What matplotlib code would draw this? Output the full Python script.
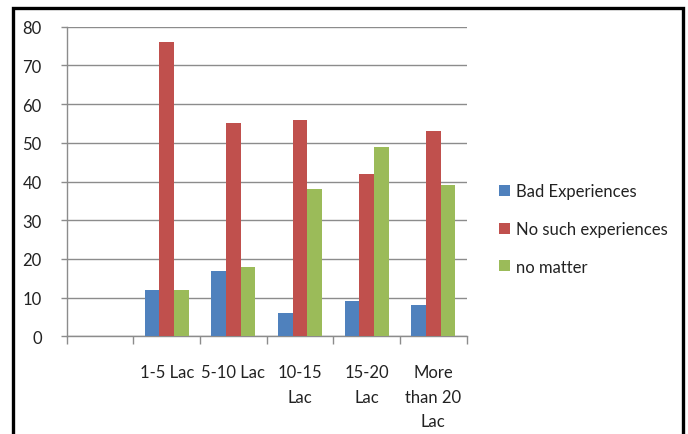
import matplotlib
matplotlib.use("Agg")
import matplotlib.pyplot as plt
from matplotlib.patches import Rectangle
import numpy as np

plt.rcParams["font.family"] = ["Lato", "DejaVu Sans"]

# income brackets (first slot is an empty category)
categories = ["", "1-5 Lac", "5-10 Lac", "10-15\nLac", "15-20\nLac", "More\nthan 20\nLac"]
bad_experiences = [np.nan, 12, 17, 6, 9, 8]
no_such_experiences = [np.nan, 76, 55, 56, 42, 53]
no_matter = [np.nan, 12, 18, 38, 49, 39]

series = [
    ("Bad Experiences", bad_experiences, "#4F81BD"),
    ("No such experiences", no_such_experiences, "#C0504D"),
    ("no matter", no_matter, "#9BBB59"),
]

W, H = 688, 435
FS = 12
fig = plt.figure(figsize=(W / 100, H / 100), dpi=100)
ax = fig.add_axes([66.7 / W, 1 - 337.3 / H, 400 / W, 309.6 / H])

x = np.arange(len(categories))
bw = 0.22
for i, (name, vals, col) in enumerate(series):
    ax.bar(x + (i - 1) * bw, vals, width=bw, color=col, label=name, zorder=3)

ax.set_xlim(-0.5, len(categories) - 0.5)
ax.set_ylim(0, 80)
ax.set_yticks(np.arange(0, 81, 10))
ax.yaxis.grid(True, color="#8C8C8C", lw=1.0, zorder=0)
ax.tick_params(axis="y", length=4, width=1, color="#8C8C8C", pad=14, labelsize=FS,
               labelcolor="#222222")

ax.set_xticks(x)
ax.set_xticklabels(categories, linespacing=1.65)
ax.set_xticks(np.arange(-0.5, len(categories)), minor=True)
ax.tick_params(axis="x", which="major", length=0, pad=20, labelsize=FS, labelcolor="#222222")
ax.tick_params(axis="x", which="minor", length=6, width=1, color="#8C8C8C")
for lbl in ax.get_xticklabels():
    lbl.set_verticalalignment("top")

for side in ("top", "right"):
    ax.spines[side].set_visible(False)
for side in ("left", "bottom"):
    ax.spines[side].set_color("#8C8C8C")
    ax.spines[side].set_linewidth(1.0)

fig.legend(loc="center left", bbox_to_anchor=(484 / W, 1 - 230 / H), frameon=False,
           fontsize=FS, handlelength=0.65, handleheight=0.65, handletextpad=0.35,
           labelspacing=1.3, labelcolor="#222222")

# black frame around the chart, open at the bottom edge
fig.patches.append(Rectangle((13 / W, -0.05), 670 / W, 1.05 - 9 / H, transform=fig.transFigure,
                             fill=False, edgecolor="black", lw=2.4, clip_on=False))

fig.savefig("out.png", dpi=100, facecolor="white")
